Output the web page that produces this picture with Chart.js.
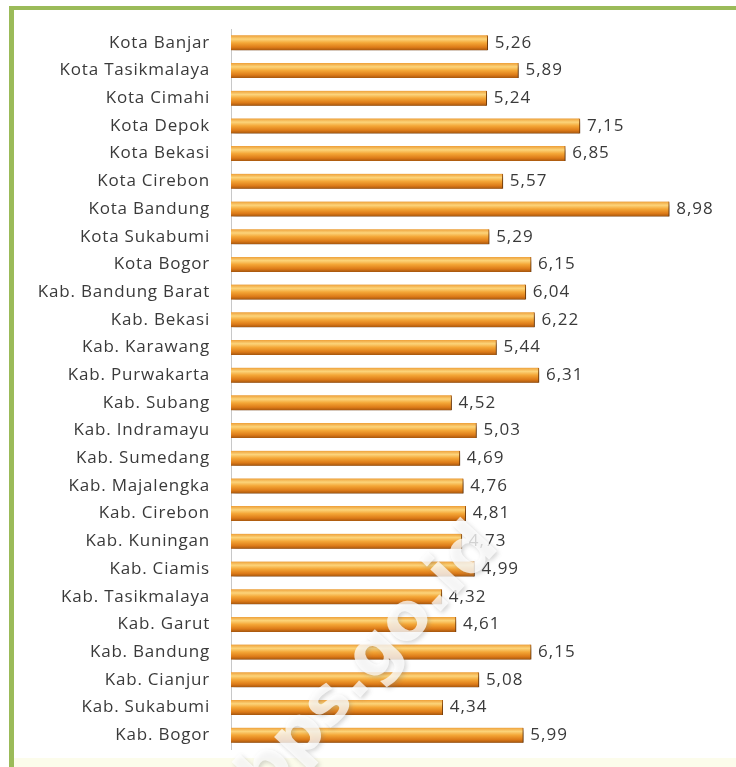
<!DOCTYPE html>
<html>
<head>
<meta charset="utf-8">
<script src="https://cdn.jsdelivr.net/npm/chart.js@4.4.0/dist/chart.umd.min.js"></script>
<style>
    html, body { margin: 0; padding: 0; background: #fff; }
    #wrap { width: 736px; height: 767px; }
</style>
</head>
<body>
<div id="wrap"><canvas id="kabKotaChart" width="736" height="767"></canvas></div>
<script>
// kabupaten / kota, urut dari atas ke bawah
const regions = [
    'Kota Banjar', 'Kota Tasikmalaya', 'Kota Cimahi', 'Kota Depok', 'Kota Bekasi',
    'Kota Cirebon', 'Kota Bandung', 'Kota Sukabumi', 'Kota Bogor', 'Kab. Bandung Barat',
    'Kab. Bekasi', 'Kab. Karawang', 'Kab. Purwakarta', 'Kab. Subang', 'Kab. Indramayu',
    'Kab. Sumedang', 'Kab. Majalengka', 'Kab. Cirebon', 'Kab. Kuningan', 'Kab. Ciamis',
    'Kab. Tasikmalaya', 'Kab. Garut', 'Kab. Bandung', 'Kab. Cianjur', 'Kab. Sukabumi',
    'Kab. Bogor'
];
const values = [
    5.26, 5.89, 5.24, 7.15, 6.85,
    5.57, 8.98, 5.29, 6.15, 6.04,
    6.22, 5.44, 6.31, 4.52, 5.03,
    4.69, 4.76, 4.81, 4.73, 4.99,
    4.32, 4.61, 6.15, 5.08, 4.34,
    5.99
];
const xMin = 0, xMax = 10;

const BAR_H = 15;
const FONT = '"Open Sans", Lato, sans-serif';

function barGradient(c) {
    let chart = c.chart;
    if (!chart.chartArea) return '#f0a030';
    let yc = chart.scales.y.getPixelForValue(c.dataIndex),
        g = chart.ctx.createLinearGradient(0, yc - BAR_H / 2, 0, yc + BAR_H / 2);
    g.addColorStop(0, '#ee9f38');
    g.addColorStop(0.25, '#fcd47a');
    g.addColorStop(0.5, '#f4a636');
    g.addColorStop(0.8, '#dc7a18');
    g.addColorStop(1, '#a5560e');
    return g;
}

// background, green frame
const framePlugin = {
    id: 'frame',
    beforeDraw(chart) {
        let ctx = chart.ctx;
        ctx.save();
        ctx.fillStyle = '#ffffff';
        ctx.fillRect(0, 0, chart.width, chart.height);
        ctx.fillStyle = '#fcfceb';
        ctx.fillRect(14, 758, chart.width - 14, chart.height - 758);
        ctx.fillStyle = '#9bbb59';
        ctx.fillRect(9, 6, 5, chart.height - 6);
        ctx.fillRect(9, 6, chart.width - 9, 4);
        ctx.restore();
        // wider text, like the original
        ctx.letterSpacing = '0.8px';
    }
};

// soft shadow under bars
const shadowPlugin = {
    id: 'barShadow',
    beforeDatasetDraw(chart) {
        let ctx = chart.ctx;
        ctx.save();
        ctx.shadowColor = 'rgba(0,0,0,0.45)';
        ctx.shadowBlur = 4;
        ctx.shadowOffsetX = 2;
        ctx.shadowOffsetY = 3;
    },
    afterDatasetDraw(chart) {
        chart.ctx.restore();
    }
};

// value labels at end of bars + watermark
const labelPlugin = {
    id: 'valueLabels',
    afterDatasetsDraw(chart) {
        let ctx = chart.ctx,
            meta = chart.getDatasetMeta(0);
        ctx.save();
        ctx.font = '17px ' + FONT;
        ctx.letterSpacing = '1px';
        ctx.fillStyle = '#3a3a3a';
        ctx.textAlign = 'left';
        ctx.textBaseline = 'middle';
        meta.data.forEach(function (bar, i) {
            ctx.fillText(values[i].toFixed(2).replace('.', ','), bar.x + 7, bar.y);
        });
        ctx.restore();

        ctx.save();
        ctx.translate(370, 662);
        ctx.rotate(-47 * Math.PI / 180);
        ctx.font = 'bold 66px "DejaVu Sans", sans-serif';
        ctx.letterSpacing = '0px';
        ctx.textAlign = 'center';
        ctx.textBaseline = 'middle';
        ctx.shadowColor = 'rgba(120,120,120,0.4)';
        ctx.shadowBlur = 4;
        ctx.shadowOffsetX = 2;
        ctx.shadowOffsetY = 2;
        ctx.fillStyle = 'rgba(255,255,255,0.75)';
        ctx.fillText('bps.go.id', 0, 0);
        ctx.restore();
    }
};

let ctx = document.getElementById('kabKotaChart'),
    myChart = new Chart(ctx, {
        type: 'bar',
        data: {
            labels: regions,
            datasets: [{
                data: values,
                backgroundColor: barGradient,
                borderColor: '#a8580e',
                borderWidth: { right: 1 },
                borderSkipped: false,
                barThickness: BAR_H
            }]
        },
        options: {
            indexAxis: 'y',
            responsive: false,
            animation: false,
            layout: { padding: { left: 14, top: 29, bottom: 18, right: 17 } },
            plugins: {
                legend: { display: false },
                tooltip: { enabled: false }
            },
            scales: {
                x: {
                    display: false,
                    min: xMin,
                    max: xMax
                },
                y: {
                    afterFit: function (scale) {
                        scale.width = 217;
                        scale.paddingTop = 0;
                        scale.paddingBottom = 0;
                    },
                    grid: { display: false },
                    border: { display: true, color: '#c8c8c8', width: 1 },
                    ticks: {
                        color: '#3a3a3a',
                        padding: 13,
                        font: { size: 17, family: FONT }
                    }
                }
            }
        },
        plugins: [framePlugin, shadowPlugin, labelPlugin]
    });
</script>
</body>
</html>
